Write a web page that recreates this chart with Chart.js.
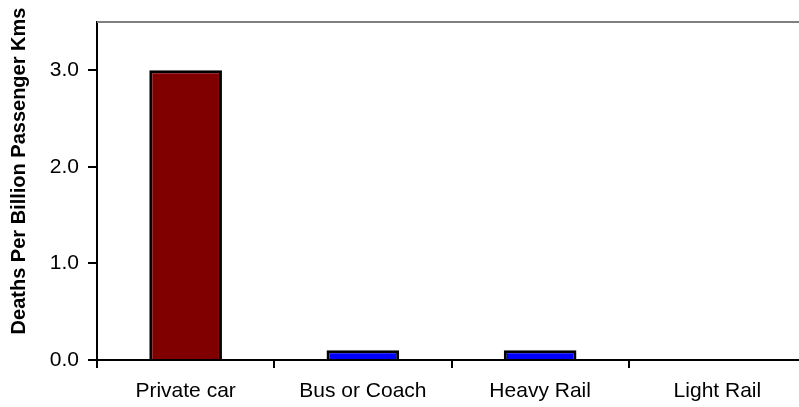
<!DOCTYPE html>
<html>
<head>
<meta charset="utf-8">
<script src="https://cdn.jsdelivr.net/npm/chart.js@4/dist/chart.umd.min.js"></script>
<style>
  html, body { margin: 0; padding: 0; background: #fff; overflow: hidden; }
  #wrap { width: 808px; height: 407px; }
</style>
</head>
<body>
<div id="wrap"><canvas id="deathsChart"></canvas></div>
<script>
const modes = ["Private car", "Bus or Coach", "Heavy Rail", "Light Rail"];
const deaths = [3.0, 0.1, 0.1, 0];
const barColors = ["#800000", "#0000ff", "#0000ff", "#0000ff"];
const yTicks = [0, 1, 2, 3];
const yTitle = "Deaths Per Billion Passenger Kms";

// grey rule along the top of the plot area, plus the rotated y title
const frameExtras = {
  id: "frameExtras",
  afterDraw(chart) {
    const { ctx, chartArea } = chart;
    ctx.save();
    ctx.strokeStyle = "#808080";
    ctx.lineWidth = 2;
    ctx.beginPath();
    ctx.moveTo(chartArea.left, chartArea.top);
    ctx.lineTo(chartArea.right + 10, chartArea.top);
    ctx.stroke();

    ctx.translate(19, 171);
    ctx.rotate(-Math.PI / 2);
    ctx.fillStyle = "#000";
    ctx.font = "bold 20px 'Liberation Sans', Arial, sans-serif";
    ctx.textAlign = "center";
    ctx.textBaseline = "middle";
    ctx.fillText(yTitle, 0, 0);
    ctx.restore();
  }
};

Chart.defaults.font.family = "'Liberation Sans', Arial, sans-serif";
Chart.defaults.color = "#000";

new Chart(document.getElementById("deathsChart").getContext("2d"), {
  type: "bar",
  data: {
    labels: modes,
    datasets: [{
      data: deaths,
      backgroundColor: barColors,
      borderColor: "#000",
      borderWidth: 3,
      borderSkipped: "bottom",
      barPercentage: 0.41,
      categoryPercentage: 1.0
    }]
  },
  options: {
    responsive: true,
    maintainAspectRatio: false,
    animation: false,
    layout: { padding: { top: 22, right: 2, bottom: 0, left: 4 } },
    plugins: { legend: { display: false }, tooltip: { enabled: false } },
    scales: {
      x: {
        afterFit(axis) { axis.height = 47; },
        grid: { display: true, drawOnChartArea: false, color: "#000", lineWidth: 2, tickLength: 8, offset: true },
        border: { display: true, color: "#000", width: 2 },
        ticks: { font: { size: 21 }, padding: 11, maxRotation: 0 }
      },
      y: {
        min: 0,
        max: 3.5,
        afterBuildTicks(axis) { axis.ticks = yTicks.map(v => ({ value: v })); },
        afterFit(axis) { axis.width = 93; },
        grid: { display: true, drawOnChartArea: false, color: "#000", lineWidth: 2, tickLength: 9 },
        border: { display: true, color: "#000", width: 2 },
        ticks: { font: { size: 21 }, padding: 9, callback: v => v.toFixed(1) }
      }
    }
  },
  plugins: [frameExtras]
});
</script>
</body>
</html>
